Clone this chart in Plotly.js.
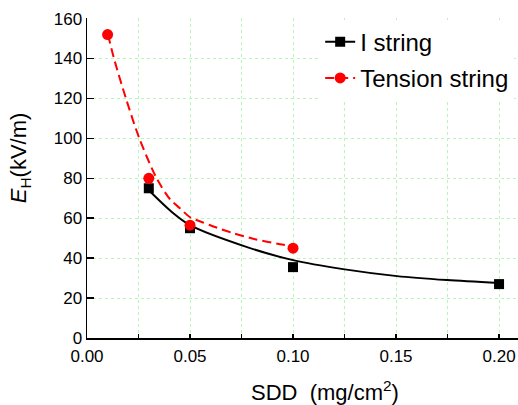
<!DOCTYPE html>
<html>
<head>
<meta charset="utf-8">
<script src="https://cdn.plot.ly/plotly-3.0.1.min.js"></script>
<style>html,body{margin:0;padding:0;background:#fff;}#chart{width:518px;height:405px;}</style>
</head>
<body>
<div id="chart"></div>
<script>
// Measured data points
const iStringX = [0.03, 0.05, 0.10, 0.20];
const iStringY = [75, 55, 35.5, 27];
const tensionX = [0.01, 0.03, 0.05, 0.10];
const tensionY = [152, 80, 56.5, 45];

// Fit curves
const iFitX = [0.03, 0.0413, 0.05, 0.0777, 0.10, 0.1243, 0.1505, 0.1748, 0.20];
const iFitY = [74, 63, 56.5, 45.5, 39, 34.5, 31, 29, 27.5];
const tFitX = [0.0102, 0.0131, 0.0189, 0.0254, 0.0338, 0.0403, 0.0451, 0.05, 0.056, 0.061, 0.071, 0.0816, 0.0937, 0.10];
const tFitY = [152, 140, 120, 100, 80, 69.5, 65, 60.5, 58, 56, 52.5, 49.5, 47, 46];

const seriesNames = ['I string', 'Tension string'];
const xTickVals = [0, 0.05, 0.10, 0.15, 0.20];
const xTickText = ['0.00', '0.05', '0.10', '0.15', '0.20'];
const yTickVals = [0, 20, 40, 60, 80, 100, 120, 140, 160];

const FONT = 'Arial, "Liberation Sans", sans-serif';
const dashRed = '9px,5px';

const traces = [
  {x: iFitX, y: iFitY, mode: 'lines', line: {color: '#000', width: 2, shape: 'spline', smoothing: 0.8}, showlegend: false, hoverinfo: 'skip'},
  {x: tFitX, y: tFitY, mode: 'lines', line: {color: '#ff0000', width: 2, dash: dashRed, shape: 'spline', smoothing: 0.8}, showlegend: false, hoverinfo: 'skip'},
  {x: iStringX, y: iStringY, mode: 'markers', marker: {symbol: 'square', size: 10, color: '#000'}, showlegend: false},
  {x: tensionX, y: tensionY, mode: 'markers', marker: {symbol: 'circle', size: 11, color: '#ff0000'}, showlegend: false},
  {x: [null], y: [null], name: seriesNames[0], legendgroup: 'a', mode: 'lines+markers', line: {color: '#000', width: 2}, marker: {symbol: 'square', size: 10, color: '#000'}},
  {x: [null], y: [null], name: seriesNames[1], legendgroup: 'b', mode: 'lines+markers', line: {color: '#ff0000', width: 2, dash: dashRed}, marker: {symbol: 'circle', size: 11, color: '#ff0000'}}
];

const gridColor = '#b8f5b8';

const layout = {
  width: 518, height: 405,
  margin: {l: 87, r: 0, t: 18, b: 67},
  paper_bgcolor: '#fff', plot_bgcolor: '#fff',
  font: {family: FONT, color: '#000', size: 17},
  showlegend: true,
  legend: {
    x: 0.541, y: 0.995, xanchor: 'left', yanchor: 'top',
    bgcolor: '#fff', borderwidth: 0,
    font: {family: FONT, size: 24, color: '#000'},
    tracegroupgap: 2
  },
  xaxis: {
    range: [0, 0.2092],
    tickvals: xTickVals, ticktext: xTickText,
    ticks: 'inside', ticklen: 4, tickwidth: 1.5, tickcolor: '#000',
    ticklabelstandoff: 2,
    showline: true, linecolor: '#000', linewidth: 1.5,
    showgrid: true, gridcolor: gridColor, griddash: 'dot', gridwidth: 1,
    minor: {dtick: 0.025, tick0: 0, ticks: 'inside', ticklen: 4, tickcolor: '#000', showgrid: true, gridcolor: gridColor, griddash: 'dot', gridwidth: 1},
    zeroline: false,
    tickfont: {family: FONT, size: 17, color: '#000'}
  },
  yaxis: {
    range: [0, 160.3],
    tickvals: yTickVals,
    ticks: 'inside', ticklen: 7, tickwidth: 1.5, tickcolor: '#000',
    showline: true, linecolor: '#000', linewidth: 1.5,
    showgrid: true, gridcolor: gridColor, griddash: 'dot', gridwidth: 1,
    zeroline: false,
    tickfont: {family: FONT, size: 17, color: '#000'}
  },
  annotations: [
    {text: 'SDD&nbsp;&nbsp;(mg/cm<sup>2</sup>)', xref: 'paper', yref: 'paper', x: 0.552, y: -0.166, xanchor: 'center', yanchor: 'middle', showarrow: false, font: {family: FONT, size: 22, color: '#000'}},
    {text: '<i>E</i><sub>H</sub>(kV/m)', xref: 'paper', yref: 'paper', x: -0.155, y: 0.5625, xanchor: 'center', yanchor: 'middle', textangle: -90, showarrow: false, font: {family: FONT, size: 22, color: '#000'}}
  ]
};

Plotly.newPlot('chart', traces, layout, {displayModeBar: false, staticPlot: true});
</script>
</body>
</html>
